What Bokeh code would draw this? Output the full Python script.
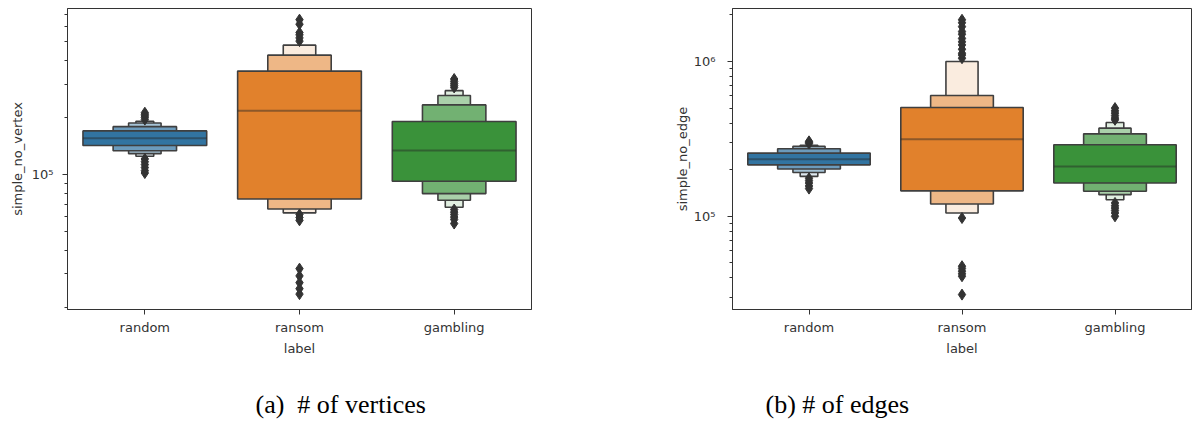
from bokeh.plotting import figure
from bokeh.layouts import row, column
from bokeh.models import FixedTicker, Range1d, FactorRange, CustomJSTickFormatter
from bokeh.core.properties import value
from bokeh.embed import file_html
from bokeh.resources import INLINE

categories = ["random", "ransom", "gambling"]

# ---- simple_no_vertex: letter-value boxes (innermost level first) ----
vtx_random_lo = [1.425e5, 1.336e5, 1.29e5, 1.25e5]
vtx_random_hi = [1.70e5, 1.79e5, 1.87e5, 1.91e5]
vtx_random_med = 1.556e5
vtx_random_out = [1.95e5, 2.0e5, 2.04e5, 2.08e5, 2.12e5,
                  1.21e5, 1.17e5, 1.13e5, 1.09e5, 1.05e5, 1.02e5]

vtx_ransom_lo = [7.45e4, 6.6e4, 6.29e4]
vtx_ransom_hi = [3.51e5, 4.26e5, 4.81e5]
vtx_ransom_med = 2.17e5
vtx_ransom_out = [5.05e5, 5.25e5, 5.45e5, 5.6e5, 6.2e5, 6.55e5,
                  6.17e4, 5.95e4, 5.75e4,
                  3.2e4, 2.93e4, 2.70e4, 2.51e4, 2.35e4]

vtx_gambling_lo = [9.23e4, 7.95e4, 7.33e4, 6.74e4]
vtx_gambling_hi = [1.905e5, 2.33e5, 2.61e5, 2.77e5]
vtx_gambling_med = 1.34e5
vtx_gambling_out = [2.88e5, 2.95e5, 3.02e5, 3.1e5, 3.19e5,
                    6.55e4, 6.35e4, 6.17e4, 5.98e4, 5.81e4, 5.53e4]

# ---- simple_no_edge ----
edg_random_lo = [2.15e5, 2.02e5, 1.92e5, 1.81e5]
edg_random_hi = [2.56e5, 2.73e5, 2.83e5, 2.88e5]
edg_random_med = 2.34e5
edg_random_out = [2.95e5, 3.0e5, 3.05e5,
                  1.76e5, 1.7e5, 1.64e5, 1.57e5, 1.51e5]

edg_ransom_lo = [1.46e5, 1.20e5, 1.05e5]
edg_ransom_hi = [5.05e5, 6.03e5, 1.0e6]
edg_ransom_med = 3.15e5
edg_ransom_out = [1.05e6, 1.1e6, 1.13e6, 1.2e6, 1.28e6, 1.34e6, 1.41e6,
                  1.5e6, 1.56e6, 1.68e6, 1.78e6, 1.86e6,
                  9.75e4,
                  4.76e4, 4.6e4, 4.42e4, 4.25e4, 4.1e4, 3.12e4]

edg_gambling_lo = [1.64e5, 1.45e5, 1.38e5, 1.28e5]
edg_gambling_hi = [2.90e5, 3.41e5, 3.71e5, 4.04e5]
edg_gambling_med = 2.10e5
edg_gambling_out = [4.2e5, 4.31e5, 4.47e5, 4.64e5, 4.8e5, 5.0e5,
                    1.22e5, 1.17e5, 1.13e5, 1.09e5, 1.05e5, 1.0e5]

captions = ["(a)\u00a0 # of vertices", "(b) # of edges"]

# ---- styling ----
BASE_COLORS = {"random": "#3274a1", "ransom": "#e1812c", "gambling": "#3a923a"}
LEVEL_WIDTHS = [0.8, 0.41, 0.21, 0.115]
EDGE = "#3f3f3f"
TEXT = "#333333"
PLOT_H = 380
CAPTION_H = 41


def lighten(hex_color, frac):
    rgb = [int(hex_color[i:i + 2], 16) for i in (1, 3, 5)]
    return "#%02x%02x%02x" % tuple(round(c + (255 - c) * frac) for c in rgb)


def boxen(p, cat, lo, hi, med, out):
    k = len(lo)
    # outer (narrow, light) levels first so the main box sits on top
    for i in reversed(range(k)):
        frac = 0.85 * i / (k - 1)
        p.vbar(x=[cat], width=LEVEL_WIDTHS[i], bottom=[lo[i]], top=[hi[i]],
               fill_color=lighten(BASE_COLORS[cat], frac),
               line_color=EDGE, line_width=1.6)
    p.rect(x=[cat], y=[med], width=LEVEL_WIDTHS[0], height=2, height_units="screen",
           fill_color="#262626", fill_alpha=0.45, line_color=None)
    p.scatter(x=[cat] * len(out), y=out, marker="diamond", size=11,
              fill_color="#333333", line_color="#333333")


SUPER_FMT = CustomJSTickFormatter(code="""
const sup = {"3": "\\u00b3", "4": "\\u2074", "5": "\\u2075", "6": "\\u2076", "7": "\\u2077"};
const e = Math.round(Math.log10(tick));
return "10" + sup[String(e)];
""")


def make_panel(width, border_left, border_right, y_lo, y_hi, major, minor,
               ylabel, tick_standoff, label_standoff):
    p = figure(x_range=FactorRange(*categories), y_axis_type="log",
               y_range=Range1d(y_lo, y_hi), width=width, height=PLOT_H,
               output_backend="svg", toolbar_location=None,
               min_border_left=border_left, min_border_right=border_right,
               min_border_top=8, min_border_bottom=PLOT_H - 309)
    p.background_fill_color = "white"
    p.border_fill_color = "white"
    p.outline_line_color = TEXT
    p.outline_line_width = 1
    p.xgrid.visible = False
    p.ygrid.visible = False

    p.yaxis.ticker = FixedTicker(ticks=major, minor_ticks=minor)
    p.yaxis.formatter = SUPER_FMT
    p.yaxis.axis_label = ylabel
    p.yaxis.major_label_standoff = tick_standoff
    p.yaxis.axis_label_standoff = label_standoff

    p.xaxis.axis_label = "label"
    p.xaxis.major_label_standoff = 5
    p.xaxis.axis_label_standoff = 3

    for ax in (p.xaxis, p.yaxis):
        ax.axis_line_color = TEXT
        ax.major_tick_line_color = TEXT
        ax.minor_tick_line_color = TEXT
        ax.major_tick_in = 0
        ax.major_tick_out = 5
        ax.minor_tick_in = 0
        ax.minor_tick_out = 3
        ax.major_label_text_font = "DejaVu Sans"
        ax.major_label_text_font_size = "13px"
        ax.major_label_text_color = TEXT
        ax.axis_label_text_font = "DejaVu Sans"
        ax.axis_label_text_font_size = "13px"
        ax.axis_label_text_font_style = "normal"
        ax.axis_label_text_color = TEXT
    return p


def make_caption(width, text, x):
    # strip holding the sub-figure caption, in pixel coordinates
    c = figure(width=width, height=CAPTION_H, x_range=Range1d(0, width),
               y_range=Range1d(0, CAPTION_H), output_backend="svg",
               toolbar_location=None, x_axis_location=None, y_axis_location=None,
               min_border=0)
    c.outline_line_color = None
    c.xgrid.visible = False
    c.ygrid.visible = False
    c.text(x=[x], y=[17], text=[text], text_font=value("Liberation Serif"),
           text_font_size="26px", text_color="black",
           text_align="left", text_baseline="middle")
    return c


p1 = make_panel(600, 67, 69, 1.95e4, 7.5e5,
                [1e5],
                [2e4, 3e4, 4e4, 5e4, 6e4, 7e4, 8e4, 9e4,
                 2e5, 3e5, 4e5, 5e5, 6e5, 7e5],
                "simple_no_vertex", 9, 4)
boxen(p1, "random", vtx_random_lo, vtx_random_hi, vtx_random_med, vtx_random_out)
boxen(p1, "ransom", vtx_ransom_lo, vtx_ransom_hi, vtx_ransom_med, vtx_ransom_out)
boxen(p1, "gambling", vtx_gambling_lo, vtx_gambling_hi, vtx_gambling_med, vtx_gambling_out)

p2 = make_panel(592, 132, 1, 2.5e4, 2.2e6,
                [1e5, 1e6],
                [3e4, 4e4, 5e4, 6e4, 7e4, 8e4, 9e4,
                 2e5, 3e5, 4e5, 5e5, 6e5, 7e5, 8e5, 9e5, 2e6],
                "simple_no_edge", 12, 1)
boxen(p2, "random", edg_random_lo, edg_random_hi, edg_random_med, edg_random_out)
boxen(p2, "ransom", edg_ransom_lo, edg_ransom_hi, edg_ransom_med, edg_ransom_out)
boxen(p2, "gambling", edg_gambling_lo, edg_gambling_hi, edg_gambling_med, edg_gambling_out)

c1 = make_caption(600, captions[0], 255)
c2 = make_caption(592, captions[1], 165)

layout = column(row(p1, p2), row(c1, c2))
with open("out.html", "w", encoding="utf-8") as f:
    f.write(file_html(layout, INLINE))
